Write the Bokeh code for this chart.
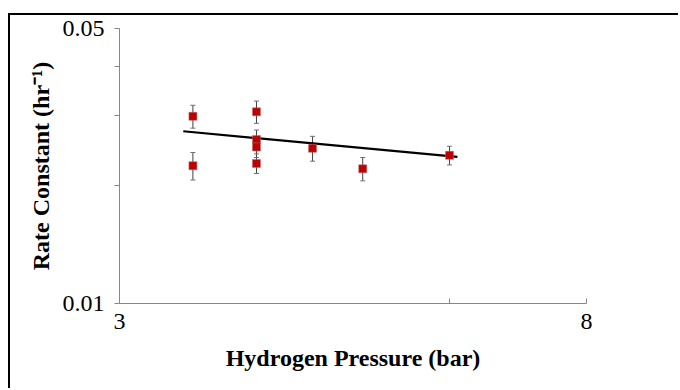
from bokeh.plotting import figure
from bokeh.models import Range1d, FixedTicker, Whisker, ColumnDataSource
from bokeh.embed import file_html
from bokeh.resources import INLINE

# Data
pressure = [3.5, 3.5, 4.0, 4.0, 4.0, 4.0, 4.5, 5.0, 6.0]
rate = [0.0299, 0.0224, 0.0307, 0.0261, 0.0250, 0.0227, 0.0248, 0.0220, 0.0238]
rate_err = [0.0020, 0.0018, 0.0020, 0.0015, 0.0015, 0.0013, 0.0018, 0.0015, 0.0013]
trend_x = [3.43, 6.1]
trend_y = [0.0274, 0.0236]
x_ticks = [3, 6, 8]
x_tick_labels = {3: "3", 6: "", 8: "8"}
y_ticks = [0.01, 0.02, 0.03, 0.04, 0.05]
y_tick_labels = {0.01: "0.01", 0.02: "", 0.03: "", 0.04: "", 0.05: "0.05"}

src = ColumnDataSource(dict(
    x=pressure, y=rate,
    lo=[r - e for r, e in zip(rate, rate_err)],
    hi=[r + e for r, e in zip(rate, rate_err)],
))

p = figure(width=670, height=375, x_axis_type="log", y_axis_type="log",
           x_range=Range1d(3, 8), y_range=Range1d(0.01, 0.05),
           output_backend="svg", toolbar_location=None,
           min_border_left=109, min_border_right=94,
           min_border_top=13, min_border_bottom=87)
p.styles = {"margin-left": "8px", "margin-top": "13px",
            "border-left": "2px solid black", "border-top": "2px solid black"}
p.outline_line_color = None
p.xgrid.visible = False
p.ygrid.visible = False
p.background_fill_color = "white"

axis_col = "#868686"
serif = "Liberation Serif"

xa = p.xaxis[0]
xa.ticker = FixedTicker(ticks=x_ticks)
xa.major_label_overrides = x_tick_labels
xa.minor_tick_line_color = None
xa.major_tick_in = 5
xa.major_tick_out = 0
xa.axis_line_color = axis_col
xa.major_tick_line_color = axis_col
xa.major_label_text_font = serif
xa.major_label_text_font_size = "24px"
xa.major_label_text_color = "black"
xa.major_label_standoff = 10
xa.axis_label = "Hydrogen Pressure (bar)"
xa.axis_label_text_font = serif
xa.axis_label_text_font_style = "bold"
xa.axis_label_text_font_size = "24px"
xa.axis_label_text_color = "black"
xa.axis_label_standoff = 13

ya = p.yaxis[0]
ya.ticker = FixedTicker(ticks=y_ticks)
ya.major_label_overrides = y_tick_labels
ya.minor_tick_line_color = None
ya.major_tick_in = 0
ya.major_tick_out = 5
ya.axis_line_color = axis_col
ya.major_tick_line_color = axis_col
ya.major_label_text_font = serif
ya.major_label_text_font_size = "24px"
ya.major_label_text_color = "black"
ya.major_label_standoff = 10
ya.axis_label = "Rate Constant (hr\u207b\u00b9)"
ya.axis_label_text_font = serif
ya.axis_label_text_font_style = "bold"
ya.axis_label_text_font_size = "24px"
ya.axis_label_text_color = "black"
ya.axis_label_standoff = 6

p.line(trend_x, trend_y, line_color="black", line_width=2.2)

w = Whisker(source=src, base="x", lower="lo", upper="hi", dimension="height",
            line_color="#404040", line_width=1)
w.upper_head.size = 5
w.lower_head.size = 5
w.upper_head.line_color = "#707070"
w.lower_head.line_color = "#707070"
p.add_layout(w)

p.scatter("x", "y", source=src, marker="square", size=8,
          fill_color="#C00000", line_color="#B07070", line_width=0.5)

open("out.html", "w").write(file_html(p, INLINE))
